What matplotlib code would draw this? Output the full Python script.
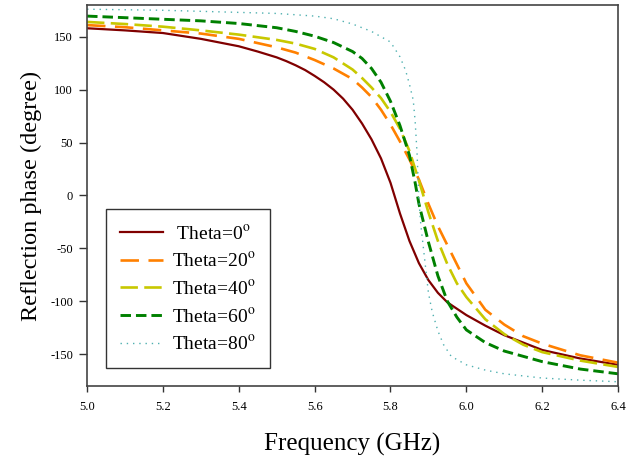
import matplotlib
matplotlib.use("Agg")
import matplotlib.pyplot as plt

plt.rcParams['font.family'] = ['Liberation Serif', 'DejaVu Serif']
plt.rcParams['mathtext.fontset'] = 'stix'
plt.rcParams['axes.unicode_minus'] = False

# theta = 0
f0 = [5.0, 5.1, 5.2, 5.3, 5.4, 5.45, 5.5, 5.525, 5.55, 5.575, 5.6, 5.625, 5.65, 5.675,
      5.7, 5.725, 5.75, 5.775, 5.8, 5.825, 5.85, 5.875, 5.9, 5.925, 5.95, 5.975, 6.0,
      6.05, 6.1, 6.2, 6.3, 6.4]
p0 = [158, 156, 153.5, 148, 141, 136, 130.5, 127, 123, 118.5, 113, 107, 100, 91.5,
      81, 68, 53, 35, 12, -17, -43, -64, -80, -92, -101, -107, -113,
      -123, -132, -146, -154, -160]

# theta = 20
f20 = [5.0, 5.1, 5.2, 5.3, 5.4, 5.5, 5.55, 5.6, 5.65, 5.7, 5.725, 5.75, 5.775, 5.8, 5.825,
       5.85, 5.875, 5.9, 5.925, 5.95, 5.975, 6.0, 6.05, 6.1, 6.15, 6.2, 6.3, 6.4]
p20 = [161, 159, 156, 153, 148, 140, 135, 128, 120, 110, 102, 93, 81, 67, 51,
       34, 15, -8, -29, -47, -65, -83, -108, -122, -133, -140, -151, -158]

# theta = 40
f40 = [5.0, 5.1, 5.2, 5.3, 5.4, 5.5, 5.55, 5.6, 5.65, 5.7, 5.725, 5.75, 5.775, 5.8, 5.825,
       5.85, 5.875, 5.9, 5.925, 5.95, 5.975, 6.0, 6.05, 6.1, 6.15, 6.2, 6.3, 6.4]
p40 = [164, 162, 159.5, 156, 152, 147, 143.5, 138.5, 130.5, 119, 111, 102, 92, 79, 63,
       42, 14, -16, -43, -65, -83, -96, -117, -131, -141, -148, -156, -162]

# theta = 60
f60 = [5.0, 5.1, 5.2, 5.3, 5.4, 5.5, 5.55, 5.6, 5.65, 5.7, 5.725, 5.75, 5.775, 5.8, 5.825,
       5.85, 5.865, 5.875, 5.9, 5.925, 5.95, 5.975, 6.0, 6.05, 6.1, 6.2, 6.3, 6.4]
p60 = [169.5, 168, 166.5, 165, 162.5, 158.5, 155, 150.5, 144.5, 136, 129.5, 120, 107, 89, 66,
       38, 12, -8, -44, -76, -100, -115, -127, -139, -147, -157, -164, -168.5]

# theta = 80
f80 = [5.0, 5.1, 5.2, 5.3, 5.4, 5.5, 5.6, 5.65, 5.7, 5.75, 5.8, 5.825, 5.84, 5.85, 5.86,
       5.865, 5.87, 5.875, 5.88, 5.89, 5.9, 5.91, 5.925, 5.94, 5.96, 6.0, 6.05, 6.1,
       6.2, 6.3, 6.4]
p80 = [176, 175.5, 175, 174, 173, 172, 169.5, 167, 162, 155, 145, 131, 118, 105, 90,
       70, 40, -5, -28, -60, -92, -110, -128, -141, -152, -160, -165, -168.5,
       -172.5, -174.5, -176]

labels = [' Theta=0$^\\mathrm{o}$', 'Theta=20$^\\mathrm{o}$', 'Theta=40$^\\mathrm{o}$',
          'Theta=60$^\\mathrm{o}$', 'Theta=80$^\\mathrm{o}$']

fig = plt.figure(figsize=(6.32, 4.57), dpi=100)
ax = fig.add_axes([0.1377, 0.1554, 0.8403, 0.8337])

ax.plot(f0, p0, color='#800000', lw=1.6, label=labels[0])
ax.plot(f20, p20, color='#ff8000', lw=1.9, dashes=(7.0, 3.6), label=labels[1])
ax.plot(f40, p40, color='#c8c800', lw=1.9, dashes=(6.6, 2.4), label=labels[2])
ax.plot(f60, p60, color='#008000', lw=2.1, dashes=(3.6, 1.7), label=labels[3])
ax.plot(f80, p80, color='#4fb0b0', lw=1.0, dashes=(1.0, 3.5), label=labels[4])

ax.set_xlim(5.0, 6.4)
ax.set_ylim(-180, 180)
ax.set_xticks([5.0, 5.2, 5.4, 5.6, 5.8, 6.0, 6.2, 6.4])
ax.set_yticks([-150, -100, -50, 0, 50, 100, 150])
ax.tick_params(axis='x', direction='out', length=4, width=1, pad=7, labelsize=9,
               top=False, colors='#333333', labelcolor='black')
ax.tick_params(axis='y', direction='out', length=6, width=1, pad=4, labelsize=9,
               right=False, colors='#333333', labelcolor='black')
for s in ax.spines.values():
    s.set_color('#444444')
    s.set_linewidth(1.2)

ax.set_xlabel('Frequency (GHz)', fontsize=18, labelpad=14)
ax.set_ylabel('Reflection phase (degree)', fontsize=17.5, labelpad=6)

leg = ax.legend(loc='lower left', bbox_to_anchor=(0.035, 0.047), borderaxespad=0,
                fontsize=14, fancybox=False, edgecolor='#333333', framealpha=1,
                handlelength=2.2, handletextpad=0.45, labelspacing=0.45,
                borderpad=0.75)
leg.get_frame().set_linewidth(1.0)

fig.savefig('out.png', dpi=100)
